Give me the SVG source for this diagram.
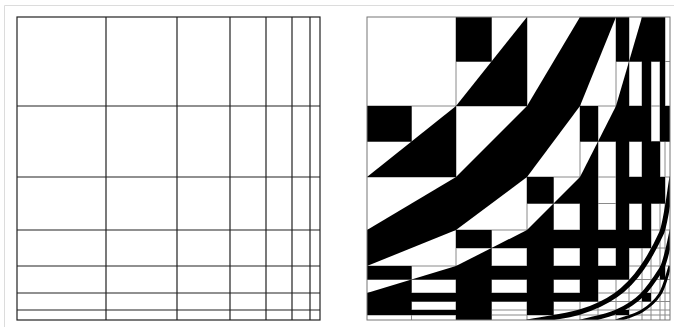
<svg xmlns="http://www.w3.org/2000/svg" width="674" height="327" viewBox="0 0 674 327">
<style>
.grid{stroke:#222;stroke-width:1.2;fill:none}
.seam{stroke:#8a8a8a;stroke-width:1;fill:none}
.blk{fill:#000;stroke:none}
.arc{fill:none;stroke:#000}
.page{stroke:#dcdcdc;stroke-width:1;fill:none}
</style>
<defs>
<clipPath id="panel"><rect x="367" y="17" width="303" height="303"/></clipPath>
</defs>
<rect x="0" y="0" width="674" height="327" fill="#fff"/>
<path class="page" d="M4.5,327V5.5H674"/>
<g id="mesh-left">
<rect class="grid" x="17" y="17" width="303" height="303"/>
<path class="grid" d="M106,17V320M177,17V320M230,17V320M266,17V320M292,17V320M310,17V320M17,106H320M17,177H320M17,230H320M17,266H320M17,293H320M17,310H320"/>
</g>
<g id="texture-right">
<rect x="367" y="17" width="303" height="303" fill="#fff"/>
<path class="seam" d="M456,17V320M527,17V320M580,17V320M616,17V320M642,17V320M660,17V320M367,106H670M367,177H670M367,230H670M367,266H670M367,293H670M367,310H670"/>
<path class="seam" d="M411.5,106V177M411.5,266V320M491.5,17V106M491.5,230V320M553.5,177V320M598,106V320M629,17V320M651,17V320M665,17V320M456,61.5H527M616,61.5H670M367,141.5H456M580,141.5H670M527,203.5H670M456,248H670M367,279.5H670M367,301.5H670M367,315H670"/>
<g class="blk">
<rect x="456" y="17" width="35.5" height="44.5"/>
<polygon points="456,106 527,17 527,106"/>
<rect x="367" y="106" width="44.5" height="35.5"/>
<polygon points="367,177 456,106 456,177"/>
<polygon points="527,106 580,17 580,106"/>
<polygon points="456,177 527,106 527,177"/>
<polygon points="367,230 456,177 456,230"/>
<polygon points="580,17 616,17 580,106"/>
<polygon points="527,106 580,106 527,177"/>
<polygon points="456,177 527,177 456,230"/>
<polygon points="367,230 456,230 367,266"/>
<rect x="616" y="17" width="13" height="44.5"/>
<polygon points="629,61.5 642,17 642,61.5"/>
<polygon points="616,106 629,61.5 629,106"/>
<rect x="580" y="106" width="18" height="35.5"/>
<polygon points="598,141.5 616,106 616,141.5"/>
<polygon points="580,177 598,141.5 598,177"/>
<rect x="527" y="177" width="26.5" height="26.5"/>
<polygon points="553.5,203.5 580,177 580,203.5"/>
<polygon points="527,230 553.5,203.5 553.5,230"/>
<rect x="456" y="230" width="35.5" height="18"/>
<polygon points="491.5,248 527,230 527,248"/>
<polygon points="456,266 491.5,248 491.5,266"/>
<rect x="367" y="266" width="44.5" height="13.5"/>
<polygon points="411.5,279.5 456,266 456,279.5"/>
<polygon points="367,293 411.5,279.5 411.5,293"/>
<polygon points="642,17 660,17 660,61.5 651,61.5 651,106 642,106"/>
<polygon points="616,106 642,106 642,141.5 629,141.5 629,177 616,177"/>
<rect x="580" y="177" width="18" height="53"/>
<polygon points="527,230 580,230 580,248 553.5,248 553.5,266 527,266"/>
<polygon points="456,266 527,266 527,279.5 491.5,279.5 491.5,293 456,293"/>
<polygon points="367,293 456,293 456,301.5 411.5,301.5 411.5,310 367,310"/>
<rect x="660" y="17" width="5" height="89"/>
<polygon points="642,106 651,106 651,141.5 660,141.5 660,177 642,177"/>
<polygon points="616,177 642,177 642,203.5 629,203.5 629,230 616,230"/>
<polygon points="580,230 616,230 616,248 598,248 598,266 580,266"/>
<polygon points="527,266 580,266 580,279.5 553.5,279.5 553.5,293 527,293"/>
<polygon points="456,293 527,293 527,301.5 491.5,301.5 491.5,310 456,310"/>
<rect x="367" y="310" width="89" height="5"/>
<rect x="660" y="106" width="10" height="35.5"/>
<polygon points="642,177 660,177 660,203.5 651,203.5 651,230 642,230"/>
<polygon points="616,230 642,230 642,248 629,248 629,266 616,266"/>
<polygon points="580,266 616,266 616,279.5 598,279.5 598,293 580,293"/>
<polygon points="527,293 580,293 580,301.5 553.5,301.5 553.5,310 527,310"/>
<rect x="456" y="310" width="35.5" height="10"/>
<rect x="660" y="177" width="5" height="26.5"/>
<rect x="642" y="230" width="9" height="18"/>
<rect x="616" y="266" width="13" height="13.5"/>
<rect x="580" y="293" width="18" height="8.5"/>
<rect x="527" y="310" width="26.5" height="5"/>
<rect x="660" y="266" width="5" height="13.5"/>
<rect x="642" y="293" width="9" height="8.5"/>
<rect x="616" y="310" width="13" height="5"/>
</g>
<g clip-path="url(#panel)">
<path class="arc" stroke-width="5" d="M527,322 C544.7,318.7 565.2,316.5 580,312 C594.8,307.5 605.7,302.3 616,295 C626.3,287.7 634.7,278.5 642,268 C649.3,257.5 655.3,246.8 662,232 C666.7,217 668.7,196.7 672,177"/>
<path class="arc" stroke-width="4.5" d="M580,322 C592,318.7 605.7,316.5 616,312 C626.3,307.5 634.7,302.3 642,295 C649.3,287.7 655.3,278.5 662,268 C666.7,257.5 668.7,244 672,230"/>
<path class="arc" stroke-width="3" d="M616,321 C624.7,317.7 634.7,315.5 642,311 C649.3,306.5 655.3,301.3 660,294 C664.7,286.7 666.7,276 670,266"/>
</g>
<rect x="367" y="17" width="303" height="303" fill="none" stroke="#777" stroke-width="1"/>
</g>
</svg>
